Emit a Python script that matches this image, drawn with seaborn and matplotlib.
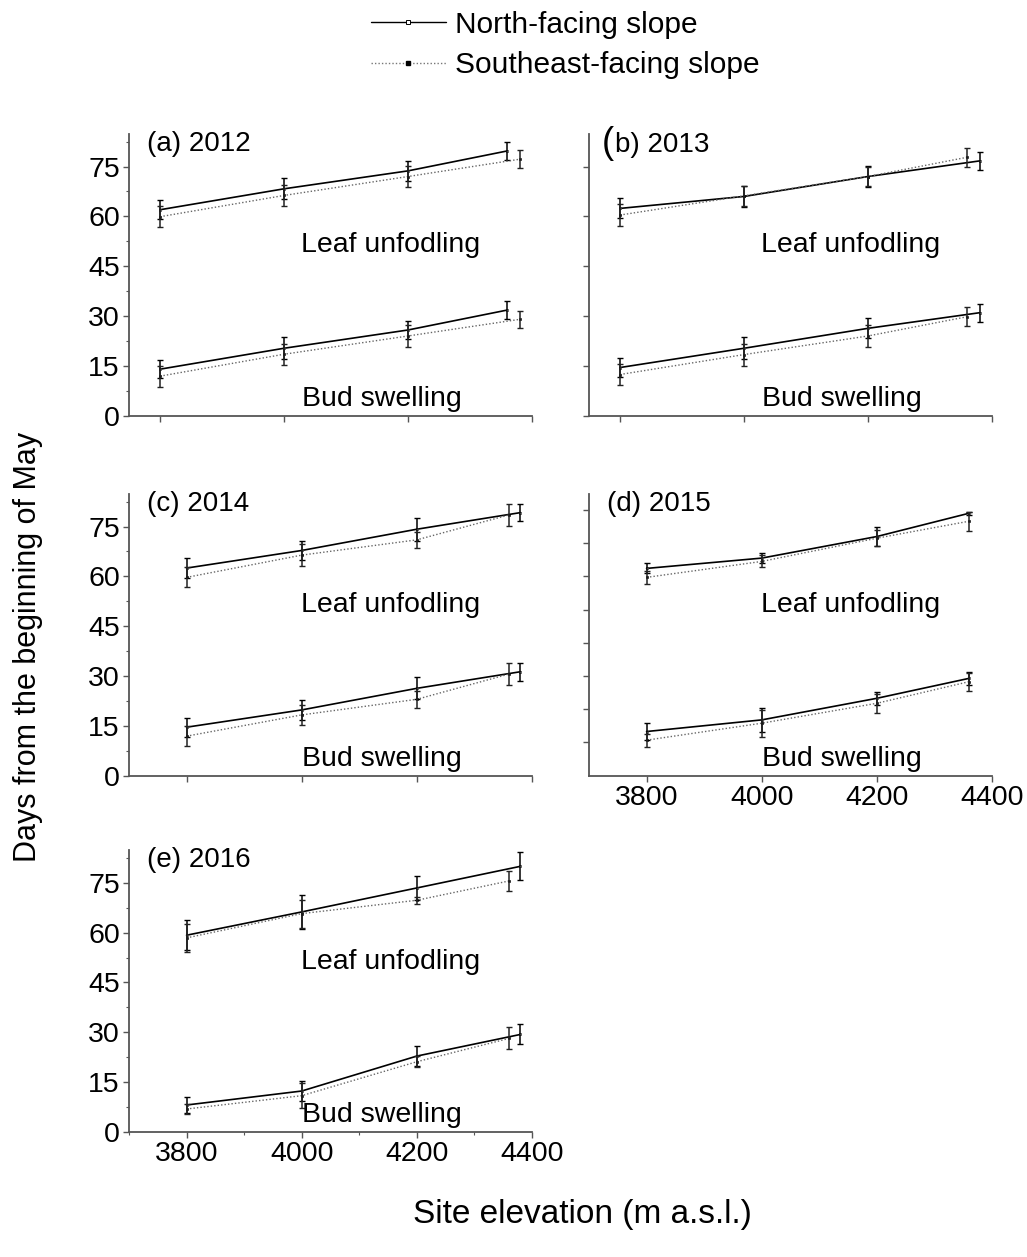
import numpy as np
import pandas as pd
import matplotlib
matplotlib.use("Agg")
import matplotlib.pyplot as plt
from matplotlib.lines import Line2D
from matplotlib.ticker import MultipleLocator
import seaborn as sns

sns.set_style("ticks")
plt.rcParams["font.family"] = ["Liberation Sans", "DejaVu Sans"]
for k in ["text.color", "axes.labelcolor", "xtick.labelcolor", "ytick.labelcolor"]:
    plt.rcParams[k] = "black"

# ---------------- data ----------------
panels = ["(a) 2012", "(b) 2013", "(c) 2014", "(d) 2015", "(e) 2016"]
elev_north = {
    "a": [3800, 4000, 4200, 4360],
    "b": [3800, 4000, 4200, 4380],
    "c": [3800, 4000, 4200, 4380],
    "d": [3800, 4000, 4200, 4360],
    "e": [3800, 4000, 4200, 4380],
}
elev_se = {
    "a": [3800, 4000, 4200, 4380],
    "b": [3800, 4000, 4200, 4360],
    "c": [3800, 4000, 4200, 4360],
    "d": [3800, 4000, 4200, 4360],
    "e": [3800, 4000, 4200, 4360],
}
north_leaf = {
    "a": [62.0, 68.3, 73.7, 79.7],
    "b": [62.4, 66.0, 72.0, 76.7],
    "c": [62.5, 67.8, 74.2, 79.2],
    "d": [62.4, 65.5, 72.0, 79.0],
    "e": [59.2, 66.2, 73.4, 79.9],
}
se_leaf = {
    "a": [59.9, 66.3, 72.0, 77.2],
    "b": [60.4, 66.2, 72.0, 77.8],
    "c": [59.7, 66.4, 71.0, 78.5],
    "d": [59.7, 64.5, 71.5, 76.6],
    "e": [58.4, 65.7, 69.7, 75.5],
}
north_bud = {
    "a": [14.0, 20.3, 25.8, 31.8],
    "b": [14.5, 20.3, 26.3, 31.0],
    "c": [14.6, 19.8, 26.3, 31.3],
    "d": [13.3, 16.8, 23.3, 29.3],
    "e": [8.2, 12.4, 22.9, 29.4],
}
se_bud = {
    "a": [11.9, 18.5, 24.0, 29.0],
    "b": [12.4, 18.4, 24.0, 29.8],
    "c": [11.9, 18.3, 23.0, 30.6],
    "d": [10.7, 15.8, 21.8, 28.3],
    "e": [7.0, 11.0, 21.2, 28.2],
}
north_leaf_err = {
    "a": [2.8, 3.2, 3.0, 2.8],
    "b": [3.0, 3.2, 3.2, 2.6],
    "c": [3.0, 2.9, 3.4, 2.6],
    "d": [1.5, 1.5, 3.0, 0.5],
    "e": [4.5, 5.0, 3.6, 4.2],
}
se_leaf_err = {
    "a": [3.2, 3.1, 3.2, 2.7],
    "b": [3.2, 3.0, 3.0, 2.9],
    "c": [3.0, 3.2, 2.5, 3.3],
    "d": [2.0, 1.8, 2.5, 2.9],
    "e": [4.2, 4.2, 1.0, 3.0],
}
north_bud_err = {
    "a": [2.8, 3.3, 2.8, 2.8],
    "b": [3.0, 3.3, 3.0, 2.7],
    "c": [2.9, 3.0, 3.3, 2.7],
    "d": [2.5, 3.7, 2.0, 2.0],
    "e": [2.5, 3.0, 3.1, 3.0],
}
se_bud_err = {
    "a": [3.2, 3.2, 3.2, 2.5],
    "b": [3.2, 3.3, 3.2, 2.9],
    "c": [3.0, 3.0, 2.5, 3.2],
    "d": [2.0, 4.0, 2.8, 2.7],
    "e": [1.6, 3.8, 1.7, 3.3],
}
x_ticks = [3800, 4000, 4200, 4400]
y_ticks = [0, 15, 30, 45, 60, 75]
slopes = ["North-facing slope", "Southeast-facing slope"]

# build a long table
rows = []
for key in "abcde":
    for slope, ex, leaf, bud, le, be in [
        (slopes[0], elev_north[key], north_leaf[key], north_bud[key], north_leaf_err[key], north_bud_err[key]),
        (slopes[1], elev_se[key], se_leaf[key], se_bud[key], se_leaf_err[key], se_bud_err[key]),
    ]:
        for phase, vals, errs in [("Leaf", leaf, le), ("Bud", bud, be)]:
            for x, v, e in zip(ex, vals, errs):
                rows.append(dict(panel=key, slope=slope, phase=phase, elev=x, day=v, err=e))
df = pd.DataFrame(rows)

# ---------------- figure ----------------
W, H = 1027, 1257
fig = plt.figure(figsize=(W / 100, H / 100), dpi=100)

def frac(l, t, r, b):
    return [l / W, 1 - b / H, (r - l) / W, (b - t) / H]

pos = {
    "a": frac(129, 134, 532, 415.7),
    "b": frac(589, 134, 992, 415.7),
    "c": frac(129, 494, 532, 775.7),
    "d": frac(589, 494, 992, 775.7),
    "e": frac(129, 850, 532, 1132.3),
}
xmins = {"a": 3750, "b": 3750, "c": 3700, "d": 3700, "e": 3700}
spine_col = "#555555"
styles = {
    slopes[0]: dict(color="black", lw=1.2, ls="-", mfc="white", ecol="black"),
    slopes[1]: dict(color="#666666", lw=1.0, ls=(0, (1, 1.5)), mfc="black", ecol="#222222"),
}

for i, key in enumerate("abcde"):
    ax = fig.add_axes(pos[key])
    sub = df[df.panel == key]
    for slope in slopes:
        st = styles[slope]
        for phase in ["Leaf", "Bud"]:
            s = sub[(sub.slope == slope) & (sub.phase == phase)]
            sns.lineplot(data=s, x="elev", y="day", ax=ax, color=st["color"],
                         lw=st["lw"], linestyle=st["ls"], marker="s", markersize=1.6,
                         markerfacecolor=st["mfc"], markeredgecolor="black",
                         markeredgewidth=0.4, estimator=None, sort=False, legend=False)
            ax.errorbar(s.elev, s.day, yerr=s.err, fmt="none", ecolor=st["ecol"],
                        elinewidth=1.1, capsize=2.2, capthick=1.0)
    ax.set_xlim(xmins[key], 4400)
    ax.set_ylim(0, 84.8)
    ax.set_xticks(x_ticks)
    ax.set_xlabel("")
    ax.set_ylabel("")
    sns.despine(ax=ax)
    for sp in ["left", "bottom"]:
        ax.spines[sp].set_color(spine_col)
        ax.spines[sp].set_linewidth(1.3)
    ax.tick_params(axis="both", which="major", direction="out", length=4.5,
                   width=1.0, color=spine_col, labelsize=20.5, pad=2,
                   labelcolor="black")
    ax.tick_params(axis="both", which="minor", direction="out", length=2.5,
                   width=0.8, color=spine_col)
    if key == "d":
        ax.set_yticks(np.arange(10, 81, 10))
        ax.set_yticklabels([])
    else:
        ax.set_yticks(y_ticks)
        if key == "b":
            ax.set_yticklabels([])
        else:
            ax.set_yticklabels([str(v) for v in y_ticks])
            ax.yaxis.set_minor_locator(MultipleLocator(7.5))
    if key in ("d", "e"):
        ax.set_xticklabels([str(v) for v in x_ticks])
    else:
        ax.set_xticklabels([])
    if key == "e":
        ax.xaxis.set_minor_locator(MultipleLocator(100))
    ax.patch.set_alpha(0)

    # panel label
    if key == "b":
        ax.text(0.031, 0.965, "(", transform=ax.transAxes, fontsize=26, va="center", ha="left")
        ax.text(0.064, 0.962, "b) 2013", transform=ax.transAxes, fontsize=20, va="center", ha="left")
    else:
        ax.text(0.044, 0.965, panels[i], transform=ax.transAxes, fontsize=20, va="center", ha="left")
    ax.text(0.648, 0.605, "Leaf unfodling", transform=ax.transAxes, fontsize=20.5,
            va="center", ha="center")
    ax.text(0.627, 0.06, "Bud swelling", transform=ax.transAxes, fontsize=20.5,
            va="center", ha="center")

# axis titles
fig.text(28 / W, 1 - 647 / H, "Days from the beginning of May", rotation=90,
         fontsize=22, va="center", ha="center")
fig.text(582 / W, 1 - 1215 / H, "Site elevation (m a.s.l.)", fontsize=24,
         va="center", ha="center")

# legend
handles = [
    Line2D([], [], color="black", lw=1.0, ls="-", marker="s", markersize=3,
           markerfacecolor="white", markeredgecolor="black", markeredgewidth=0.7),
    Line2D([], [], color="#777777", lw=1.0, ls=(0, (1, 1.5)), marker="s", markersize=3,
           markerfacecolor="black", markeredgecolor="black"),
]
fig.legend(handles, slopes, loc="upper left", bbox_to_anchor=(350 / W, 1 + 10 / H),
           frameon=False, fontsize=21.5, handlelength=2.5, handletextpad=0.3,
           labelspacing=0.42, borderpad=0.2)

fig.savefig("out.png", dpi=100)
